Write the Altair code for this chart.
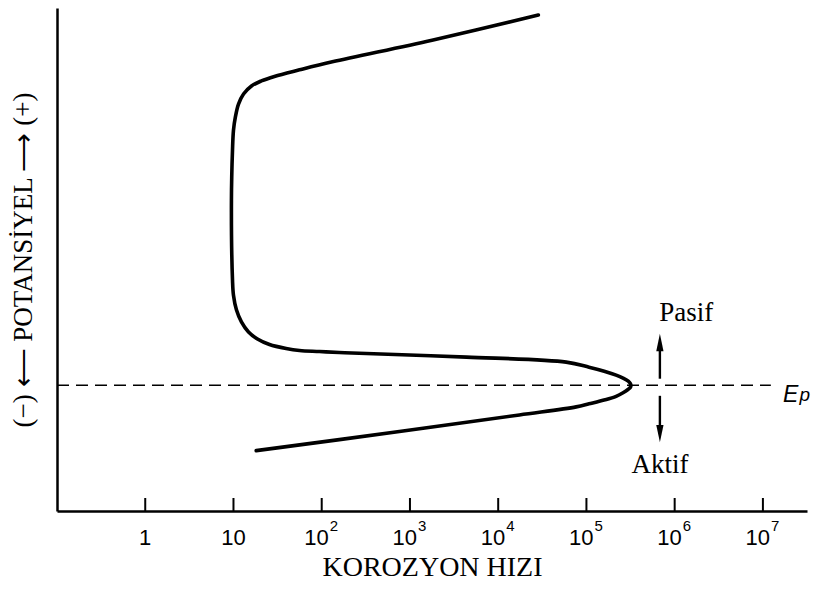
import altair as alt
import pandas as pd

# --- curve (corrosion rate vs potential) ---
rate = [18.1, 759, 17400, 76600, 107000, 163000, 217000, 260000, 298000, 315000,
        319000, 315000, 298000, 260000, 217000, 159000, 107000, 59000, 4370, 321,
        158, 94.2, 56.0, 39.5, 25.6, 18.7, 14.8, 12.3, 10.8, 10.0,
        9.75, 9.48, 9.75, 10.0, 10.5, 11.4, 13.0, 16.0, 20.7, 29.1,
        56.0, 132, 1780, 28500]
potential = [12.0, 15.8, 19.1, 20.7, 21.3, 22.1, 22.8, 23.5, 24.2, 24.6,
             25.0, 25.3, 25.8, 26.4, 27.0, 27.8, 28.6, 29.6, 30.6, 31.3,
             31.5, 31.7, 31.9, 32.3, 33.1, 34.2, 35.6, 37.6, 40.0, 42.9,
             45.9, 61.8, 71.8, 75.7, 78.3, 80.9, 82.9, 84.5, 85.5, 86.4,
             87.7, 89.3, 93.6, 98.6]

# --- axis ticks ---
tick_values = [1, 10, 100, 1e3, 1e4, 1e5, 1e6, 1e7]
tick_base = ["1", "10", "10", "10", "10", "10", "10", "10"]
tick_exp = ["", "", "2", "3", "4", "5", "6", "7"]

# --- Ep line and annotations ---
ep_potential = 25.0
ep_rate_range = [0.1, 1.23e7]
arrow_rate = 6.8e5
arrow_up = [26.3, 32.0]
arrow_down = [22.9, 16.5]
head_up = 33.5
head_down = 15.4

W, H = 750, 503

curve = pd.DataFrame({"rate": rate, "E": potential, "i": list(range(len(rate)))})
ticks = pd.DataFrame({"rate": tick_values, "base": tick_base, "exp": tick_exp})
plain = ticks[ticks["exp"] == ""]
powered = ticks[ticks["exp"] != ""]

xs = alt.Scale(type="log", domain=[0.1, 3.16e7], nice=False)
ys = alt.Scale(domain=[0, 100], nice=False, zero=False)

line = alt.Chart(curve).mark_line(
    color="black", strokeWidth=3.6, interpolate="catmull-rom", strokeCap="round"
).encode(
    x=alt.X("rate:Q", scale=xs, axis=alt.Axis(
        title="KOROZYON HIZI", labels=False, ticks=False, grid=False,
        domainColor="black", domainWidth=2.5, titleFont="Liberation Serif",
        titleFontSize=28, titleFontWeight="normal", titleColor="black",
        titlePadding=42)),
    y=alt.Y("E:Q", scale=ys, axis=alt.Axis(
        title="(−) ⟵ POTANSİYEL ⟶ (+)", labels=False, ticks=False, grid=False,
        domainColor="black", domainWidth=2.5, titleFont="Liberation Serif",
        titleFontSize=27, titleFontWeight="normal", titleColor="black",
        titlePadding=20)),
    order="i:Q",
)

tick_rules = alt.Chart(ticks).mark_rule(color="black", strokeWidth=2).encode(
    x=alt.X("rate:Q", scale=xs), y=alt.value(H - 13), y2=alt.value(H)
)

lab_font = "Liberation Sans"
plain_lab = alt.Chart(plain).mark_text(
    font=lab_font, fontSize=22, align="center", baseline="middle", color="black"
).encode(x=alt.X("rate:Q", scale=xs), y=alt.value(H + 27), text="base:N")

pow_base = alt.Chart(powered).mark_text(
    font=lab_font, fontSize=22, align="right", baseline="middle", dx=7, color="black"
).encode(x=alt.X("rate:Q", scale=xs), y=alt.value(H + 27), text="base:N")

pow_exp = alt.Chart(powered).mark_text(
    font=lab_font, fontSize=15, align="left", baseline="middle", dx=8, color="black"
).encode(x=alt.X("rate:Q", scale=xs), y=alt.value(H + 15), text="exp:N")

ep_df = pd.DataFrame({"rate": ep_rate_range, "E": [ep_potential, ep_potential]})
ep_line = alt.Chart(ep_df).mark_line(
    color="black", strokeWidth=1.5, strokeDash=[12, 7]
).encode(x=alt.X("rate:Q", scale=xs), y=alt.Y("E:Q", scale=ys))

shaft_df = pd.DataFrame({
    "rate": [arrow_rate] * 4,
    "E": arrow_up + arrow_down,
    "g": ["up", "up", "down", "down"],
})
shafts = alt.Chart(shaft_df).mark_line(color="black", strokeWidth=2.4).encode(
    x=alt.X("rate:Q", scale=xs), y=alt.Y("E:Q", scale=ys), detail="g:N"
)

head_up_df = pd.DataFrame({"rate": [arrow_rate], "E": [head_up]})
head_dn_df = pd.DataFrame({"rate": [arrow_rate], "E": [head_down]})
hu = alt.Chart(head_up_df).mark_point(
    shape="M0,-1L0.42,1L-0.42,1Z", filled=True, color="black", size=300, opacity=1
).encode(x=alt.X("rate:Q", scale=xs), y=alt.Y("E:Q", scale=ys))
hd = alt.Chart(head_dn_df).mark_point(
    shape="M0,1L0.42,-1L-0.42,-1Z", filled=True, color="black", size=300, opacity=1
).encode(x=alt.X("rate:Q", scale=xs), y=alt.Y("E:Q", scale=ys))

txt_df = pd.DataFrame({"rate": [6.68e5], "E": [37.8], "t": ["Pasif"]})
pasif = alt.Chart(txt_df).mark_text(
    font="Liberation Serif", fontSize=27, align="left", baseline="alphabetic", color="black"
).encode(x=alt.X("rate:Q", scale=xs), y=alt.Y("E:Q", scale=ys), text="t:N")

aktif_df = pd.DataFrame({"rate": [arrow_rate], "E": [7.6], "t": ["Aktif"]})
aktif = alt.Chart(aktif_df).mark_text(
    font="Liberation Serif", fontSize=27, align="center", baseline="alphabetic", color="black"
).encode(x=alt.X("rate:Q", scale=xs), y=alt.Y("E:Q", scale=ys), text="t:N")

e_df = pd.DataFrame({"rate": [1.69e7], "E": [21.7], "t": ["E"]})
e_lab = alt.Chart(e_df).mark_text(
    font="Liberation Sans", fontSize=23, fontStyle="italic", align="left",
    baseline="alphabetic", color="black"
).encode(x=alt.X("rate:Q", scale=xs), y=alt.Y("E:Q", scale=ys), text="t:N")

p_df = pd.DataFrame({"rate": [2.6e7], "E": [21.9], "t": ["p"]})
p_lab = alt.Chart(p_df).mark_text(
    font="Liberation Sans", fontSize=19, fontStyle="italic", align="left",
    baseline="alphabetic", color="black"
).encode(x=alt.X("rate:Q", scale=xs), y=alt.Y("E:Q", scale=ys), text="t:N")

chart = alt.layer(
    ep_line, line, tick_rules, plain_lab, pow_base, pow_exp,
    shafts, hu, hd, pasif, aktif, e_lab, p_lab
).properties(
    width=W, height=H,
    padding={"left": 49, "top": 0, "right": 4, "bottom": 75},
    autosize=alt.AutoSizeParams(type="none"),
    background="white",
).configure_view(strokeWidth=0)

chart.save("out.html", embed_options={"renderer": "svg", "actions": False})
